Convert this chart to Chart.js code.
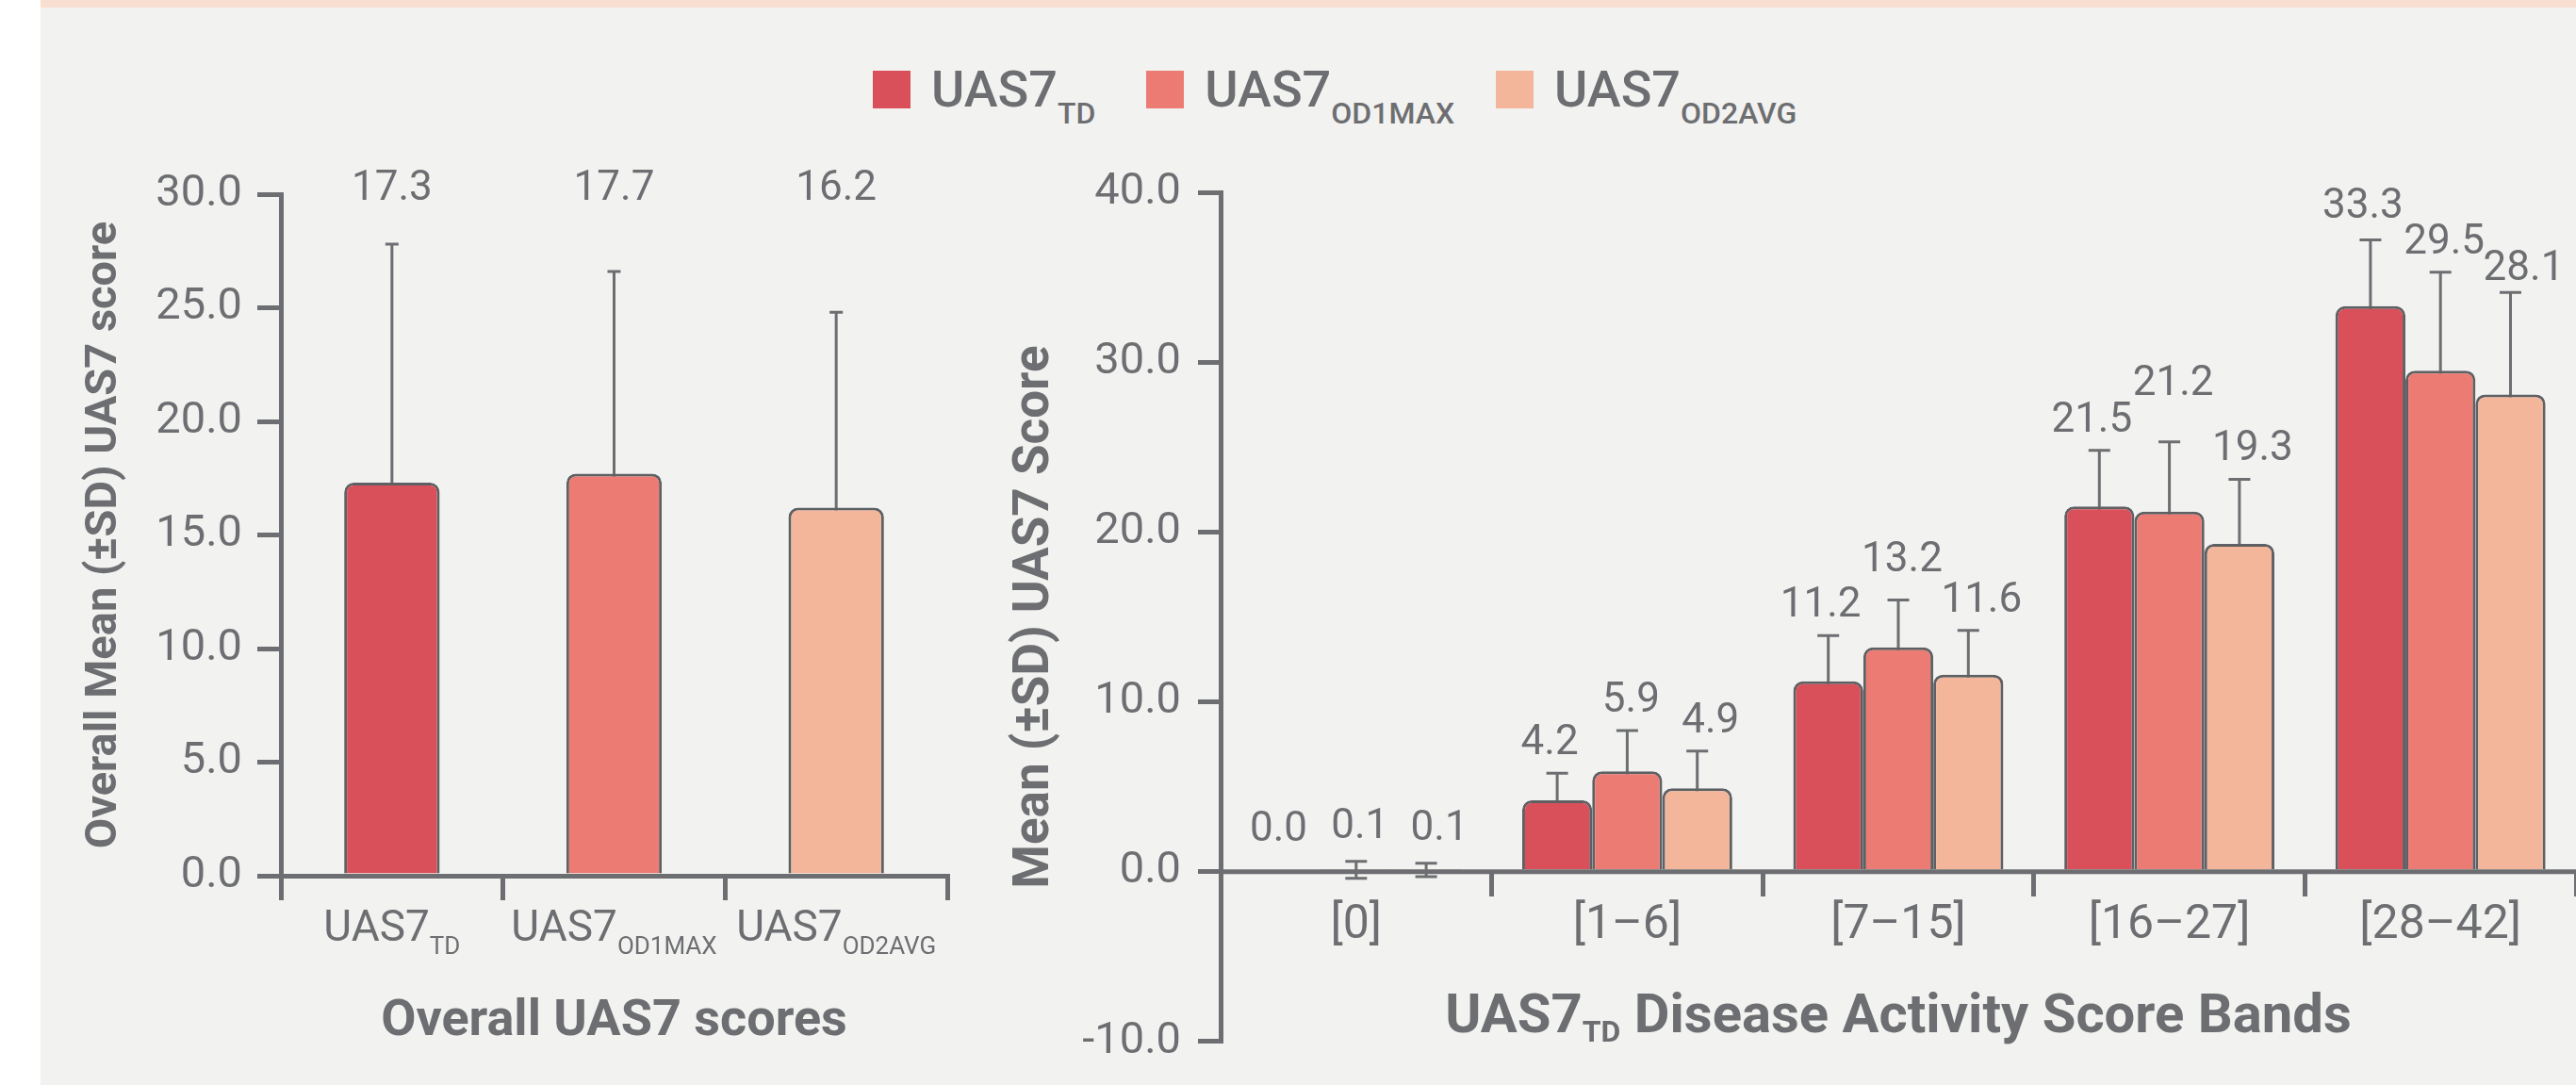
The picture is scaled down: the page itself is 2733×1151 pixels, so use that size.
<!DOCTYPE html>
<html>
<head>
<meta charset="utf-8">
<script src="https://cdn.jsdelivr.net/npm/chart.js@4.4.1/dist/chart.umd.min.js"></script>
<style>
  html, body { margin: 0; padding: 0; }
  body { width: 2733px; height: 1151px; background: #f2f2f0; position: relative; overflow: hidden; font-family: Roboto, sans-serif; }
  #white-strip { position: absolute; left: 0; top: 0; width: 43px; height: 1151px; background: #ffffff; }
  #top-band { position: absolute; left: 43px; top: 0; right: 0; height: 8px; background: #f9ded2; }
  #legend { position: absolute; left: 926px; top: 68px; display: flex; align-items: center; color: #6d6e71; }
  .legend-item { display: flex; align-items: center; margin-right: 54px; }
  .legend-item:nth-child(2) { margin-right: 44px; }
  .swatch { width: 40px; height: 40px; margin-right: 22px; }
  .legend-name { font-size: 54px; font-weight: 500; line-height: 54px; white-space: nowrap; }
  .legend-name sub { font-size: 32px; line-height: 0; vertical-align: -18px; }
  #left-wrap { position: absolute; left: 0; top: 0; }
  #right-wrap { position: absolute; left: 1050px; top: 0; }
</style>
</head>
<body>
<div id="white-strip"></div>
<div id="top-band"></div>
<div id="legend"></div>
<div id="left-wrap"><canvas id="overall-chart" width="1050" height="1151"></canvas></div>
<div id="right-wrap"><canvas id="bands-chart" width="1683" height="1151"></canvas></div>

<script>
// series names (main part + subscript)
var seriesNames = ['UAS7', 'UAS7', 'UAS7'];
var seriesSubs = ['TD', 'OD1MAX', 'OD2AVG'];
var seriesColors = ['#d9505a', '#ec7b74', '#f3b69b'];

// left chart: overall scores
var overallMeans = [17.3, 17.7, 16.2];
var overallSD = [10.5, 8.9, 8.6];

// right chart: score bands
var bandLabels = ['[0]', '[1–6]', '[7–15]', '[16–27]', '[28–42]'];
var tdMeans = [0.0, 4.2, 11.2, 21.5, 33.3];
var tdSD = [0.0, 1.6, 2.7, 3.3, 3.9];
var od1Means = [0.1, 5.9, 13.2, 21.2, 29.5];
var od1SD = [0.5, 2.4, 2.8, 4.1, 5.8];
var od2Means = [0.1, 4.9, 11.6, 19.3, 28.1];
var od2SD = [0.4, 2.2, 2.6, 3.8, 6.0];

// small vertical nudges (px) for value labels that were moved by hand in the original
var bandLabelNudge = [[-13, 0, 0, 0, -3], [-5, 0, -10, -30, 0], [-5, 0, 0, 0, 7]];

var textGray = '#6d6e71';
var barEdge = '#5e6063';

Chart.defaults.font.family = 'Roboto';
Chart.defaults.color = textGray;

// legend with subscripts, built as html
var legendDiv = document.getElementById('legend');
for (var i = 0; i < seriesNames.length; i++) {
  var item = document.createElement('div');
  item.className = 'legend-item';
  item.innerHTML = '<div class="swatch" style="background:' + seriesColors[i] + '"></div>' +
    '<div class="legend-name">' + seriesNames[i] + '<sub>' + seriesSubs[i] + '</sub></div>';
  legendDiv.appendChild(item);
}

// draws mean +/- SD whiskers behind the bars
var errorBarPlugin = {
  id: 'errorBars',
  beforeDatasetsDraw: function(chart, args, opts) {
    var ctx = chart.ctx;
    var yScale = chart.scales.y;
    ctx.save();
    ctx.strokeStyle = textGray;
    ctx.lineWidth = opts.lineWidth;
    chart.data.datasets.forEach(function(ds, i) {
      var meta = chart.getDatasetMeta(i);
      meta.data.forEach(function(bar, j) {
        var m = ds.data[j];
        var sd = ds.sd[j];
        var top = yScale.getPixelForValue(m + sd);
        var bottom = yScale.getPixelForValue(m - sd);
        var half = opts.cap / 2;
        ctx.beginPath();
        ctx.moveTo(bar.x, top);
        ctx.lineTo(bar.x, bottom);
        ctx.moveTo(bar.x - half, top);
        ctx.lineTo(bar.x + half, top);
        ctx.moveTo(bar.x - half, bottom);
        ctx.lineTo(bar.x + half, bottom);
        ctx.stroke();
      });
    });
    ctx.restore();
  }
};

// value labels above bars
var valueLabelPlugin = {
  id: 'valueLabels',
  afterDatasetsDraw: function(chart, args, opts) {
    var ctx = chart.ctx;
    var yScale = chart.scales.y;
    ctx.save();
    ctx.fillStyle = textGray;
    ctx.font = opts.size + 'px Roboto';
    ctx.textAlign = 'center';
    chart.data.datasets.forEach(function(ds, i) {
      var meta = chart.getDatasetMeta(i);
      meta.data.forEach(function(bar, j) {
        var txt = ds.data[j].toFixed(1);
        var shift = opts.shift ? opts.shift[i] : 0;
        if (opts.fixedTop) {
          ctx.textBaseline = 'middle';
          ctx.fillText(txt, bar.x + shift, chart.chartArea.top - 5);
        } else {
          ctx.textBaseline = 'alphabetic';
          var top = yScale.getPixelForValue(ds.data[j] + ds.sd[j]);
          var nudge = opts.nudge ? opts.nudge[i][j] : 0;
          ctx.fillText(txt, bar.x + shift, top - opts.gap + nudge);
        }
      });
    });
    ctx.restore();
  }
};

// x axis line at value 0, drawn over the bar bottoms
var zeroLinePlugin = {
  id: 'zeroLine',
  afterDatasetsDraw: function(chart) {
    var ctx = chart.ctx;
    var area = chart.chartArea;
    var y = chart.scales.y.getPixelForValue(0);
    ctx.save();
    ctx.strokeStyle = textGray;
    ctx.lineWidth = 5;
    ctx.beginPath();
    ctx.moveTo(area.left, y);
    ctx.lineTo(area.right, y);
    ctx.stroke();
    ctx.restore();
  }
};

// draws "main" + subscript text centred at x
function drawSubText(ctx, x, y, main, sub, mainFont, subFont, subDrop, rest) {
  ctx.font = mainFont;
  var w1 = ctx.measureText(main).width;
  var w3 = rest ? ctx.measureText(rest).width : 0;
  ctx.font = subFont;
  var w2 = ctx.measureText(sub).width;
  var start = x - (w1 + w2 + w3) / 2;
  ctx.textAlign = 'left';
  ctx.textBaseline = 'alphabetic';
  ctx.font = mainFont;
  ctx.fillText(main, start, y);
  ctx.font = subFont;
  ctx.fillText(sub, start + w1, y + subDrop);
  if (rest) {
    ctx.font = mainFont;
    ctx.fillText(rest, start + w1 + w2, y);
  }
}

var overallTickPlugin = {
  id: 'overallTicks',
  afterDraw: function(chart) {
    var ctx = chart.ctx;
    var xScale = chart.scales.x;
    var base = chart.scales.y.getPixelForValue(0);
    ctx.save();
    ctx.fillStyle = textGray;
    for (var i = 0; i < seriesNames.length; i++) {
      drawSubText(ctx, xScale.getPixelForValue(i), base + 69, seriesNames[i], seriesSubs[i],
        '400 46px Roboto', '400 26px Roboto', 14);
    }
    ctx.restore();
  }
};

var bandTitlePlugin = {
  id: 'bandTitle',
  afterDraw: function(chart) {
    var ctx = chart.ctx;
    var area = chart.chartArea;
    ctx.save();
    ctx.fillStyle = textGray;
    drawSubText(ctx, (area.left + area.right) / 2, 1095, 'UAS7', 'TD',
      '700 58px Roboto', '700 32px Roboto', 10, ' Disease Activity Score Bands');
    ctx.restore();
  }
};

function fmt(v) { return Number(v).toFixed(1); }

// left chart
new Chart(document.getElementById('overall-chart'), {
  type: 'bar',
  data: {
    labels: seriesSubs,
    datasets: [{
      data: overallMeans,
      sd: overallSD,
      backgroundColor: seriesColors,
      borderColor: barEdge,
      borderWidth: 3,
      borderRadius: { topLeft: 10, topRight: 10 },
      barPercentage: 0.43,
      categoryPercentage: 1
    }]
  },
  options: {
    responsive: false,
    animation: false,
    devicePixelRatio: 1,
    layout: { padding: { top: 206, right: 45, bottom: 0, left: 0 } },
    plugins: {
      legend: { display: false },
      tooltip: { enabled: false },
      errorBars: { lineWidth: 3, cap: 14 },
      valueLabels: { size: 44, fixedTop: true }
    },
    scales: {
      x: {
        z: 1,
        afterFit: function(scale) { scale.height = 222; },
        ticks: { display: false },
        grid: { drawOnChartArea: false, drawTicks: true, tickLength: 26, lineWidth: 5, color: textGray },
        border: { display: true, width: 5, color: textGray },
        title: { display: true, text: 'Overall UAS7 scores', font: { size: 54, weight: '700', lineHeight: 1 }, padding: { bottom: 40 }, color: textGray }
      },
      y: {
        min: 0,
        max: 30,
        afterFit: function(scale) { scale.width = 298; },
        ticks: { stepSize: 5, callback: fmt, font: { size: 47 }, padding: 16, color: textGray },
        grid: { drawOnChartArea: false, drawTicks: true, tickLength: 25, lineWidth: 5, color: textGray },
        border: { display: true, width: 5, color: textGray },
        title: { display: true, text: 'Overall Mean (±SD) UAS7 score', font: { size: 47, weight: '700', lineHeight: 1 }, padding: { top: 88 }, color: textGray }
      }
    }
  },
  plugins: [errorBarPlugin, valueLabelPlugin, overallTickPlugin]
});

// right chart
function bandSet(idx, means, sds) {
  return {
    label: seriesNames[idx] + seriesSubs[idx],
    data: means,
    sd: sds,
    backgroundColor: seriesColors[idx],
    borderColor: barEdge,
    borderWidth: 3,
    borderRadius: { topLeft: 10, topRight: 10 },
    barPercentage: 1,
    categoryPercentage: 0.775
  };
}

new Chart(document.getElementById('bands-chart'), {
  type: 'bar',
  data: {
    labels: bandLabels,
    datasets: [bandSet(0, tdMeans, tdSD), bandSet(1, od1Means, od1SD), bandSet(2, od2Means, od2SD)]
  },
  options: {
    responsive: false,
    animation: false,
    devicePixelRatio: 1,
    layout: { padding: { top: 204, right: 0, bottom: 45, left: 0 } },
    plugins: {
      legend: { display: false },
      tooltip: { enabled: false },
      errorBars: { lineWidth: 3, cap: 23 },
      valueLabels: { size: 44, gap: 20, shift: [-8, 4, 14], nudge: bandLabelNudge }
    },
    scales: {
      x: {
        position: { y: 0 },
        ticks: { font: { size: 50 }, padding: 2, color: textGray },
        grid: { drawOnChartArea: false, drawTicks: true, tickLength: 26, lineWidth: 5, color: textGray },
        border: { display: false }
      },
      y: {
        min: -10,
        max: 40,
        afterFit: function(scale) { scale.width = 245; },
        ticks: { stepSize: 10, callback: fmt, font: { size: 47 }, padding: 18, color: textGray },
        grid: { drawOnChartArea: false, drawTicks: true, tickLength: 24, lineWidth: 5, color: textGray },
        border: { display: true, width: 5, color: textGray },
        title: { display: true, text: 'Mean (±SD) UAS7 Score', font: { size: 53, weight: '700', lineHeight: 1 }, padding: { top: 22 }, color: textGray }
      }
    }
  },
  plugins: [errorBarPlugin, valueLabelPlugin, zeroLinePlugin, bandTitlePlugin]
});
</script>
</body>
</html>
